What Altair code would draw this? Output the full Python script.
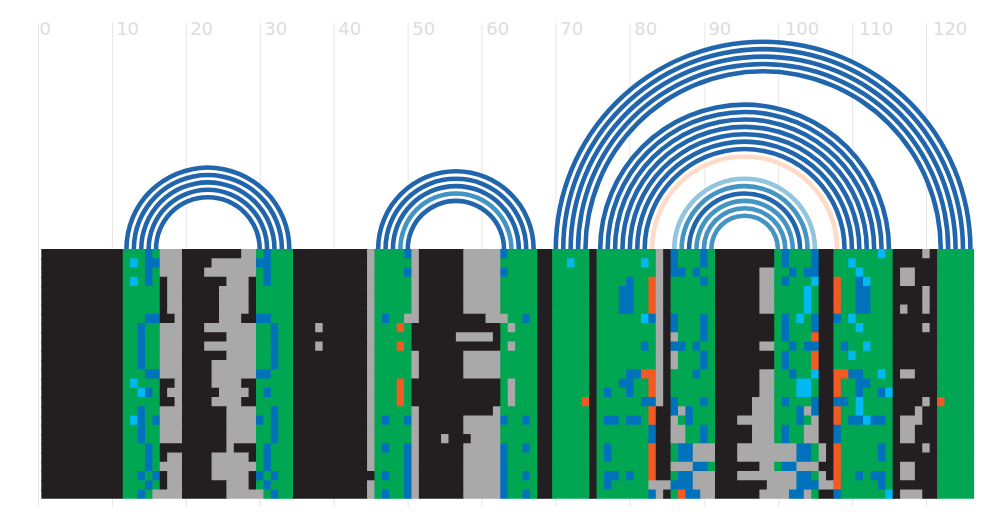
import altair as alt
import pandas as pd

# Alignment: each row lists runs as <state><last column of the run>
ROWS = [
"K11 g14 b15 g16 G19 K27 G29 g30 b31 g34 K44 G45 g49 b50 G51 K57 G62 b63 g67 K69 g74 K75 g83 G84 K85 b86 g89 b90 g91 K99 g100 b101 g104 b105 K107 g113 c114 g115 K119 G120 K121 g126",
"K11 g12 c13 g14 b16 G19 K23 G29 b31 g34 K44 G45 g50 G51 K57 G62 g67 K69 g71 c72 g74 K75 g81 c82 g83 G84 K85 b86 g89 b90 g91 K99 g100 b101 g104 b105 K107 g109 c110 g115 K121 g126",
"K11 g14 b15 g16 G19 K22 G29 g30 b31 g34 K44 G45 g49 b50 G51 K57 G62 b63 g67 K69 g74 K75 g83 G84 K85 b87 g88 b89 g91 K97 G99 g101 b102 g103 b105 K107 g110 c111 g115 K116 G118 K121 g126",
"K11 g12 c13 g14 b15 g16 K17 G19 K25 G28 K29 g30 b31 g34 K44 G45 g50 G51 K57 G62 g67 K69 g74 K75 g79 b80 g82 o83 G84 K85 g89 b90 g91 K97 G99 g100 b101 g104 c105 K107 o108 g110 b111 c112 g115 K116 G118 K121 g126",
"K11 g16 K17 G19 K24 G28 K29 g34 K44 G45 g50 G51 K57 G62 g67 K69 g74 K75 g78 b80 g82 o83 G84 K85 g91 K97 G99 g103 c104 g105 K107 o108 g110 b112 g115 K119 G120 K121 g126",
"K11 g16 K17 G19 K24 G28 K29 g34 K44 G45 g50 G51 K57 G62 g67 K69 g74 K75 g78 b80 g82 o83 G84 K85 g91 K97 G99 g103 c104 g105 K107 o108 g110 b112 g115 K119 G120 K121 g126",
"K11 g16 K17 G19 K24 G28 K29 g34 K44 G45 g50 G51 K57 G62 g67 K69 g74 K75 g78 b80 g82 o83 G84 K85 g91 K97 G99 g103 c104 g105 K107 o108 g110 b112 g115 K116 G117 K119 G120 K121 g126",
"K11 g14 b16 K18 G19 K24 G27 K29 b31 g34 K44 G45 g46 b47 g49 G51 K60 G63 g65 b66 g67 K69 g74 K75 g81 c82 b83 G84 K85 b86 g89 b90 g91 K99 g100 b101 g102 c103 g104 b105 K107 b108 g109 c110 g115 K121 g126",
"K11 g13 b14 g16 G19 K22 G29 g31 b32 g34 K37 G38 K44 G45 g48 o49 g50 K62 g63 G64 g67 K69 g74 K75 g83 G84 K85 b86 g89 b90 g91 K99 g100 b101 g104 b105 K107 g110 c111 g115 K119 G120 K121 g126",
"K11 g13 b14 g16 G19 K25 G29 g31 b32 g34 K44 G45 g50 K56 G61 K62 g67 K69 g74 K75 g83 G84 K85 G86 g89 b90 g91 K99 g100 b101 g104 o105 K107 g115 K121 g126",
"K11 g13 b14 g16 G19 K22 G29 g31 b32 g34 K37 G38 K44 G45 g48 o49 g50 K62 g63 G64 g67 K69 g74 K75 g81 b82 g83 G84 K85 b87 g88 b89 g91 K97 G99 g101 b102 g103 b105 K107 g108 b109 g111 c112 g115 K121 g126",
"K11 g13 b14 g16 G19 K25 G29 g31 b32 g34 K44 G45 g50 G51 K57 G62 g67 K69 g74 K75 g83 G84 K85 G86 g89 b90 g91 K99 g100 b101 g104 o105 K107 g109 c110 g115 K121 g126",
"K11 g13 b14 g16 G19 K23 G29 g31 b32 g34 K44 G45 g50 G51 K57 G62 g67 K69 g74 K75 g83 G84 K85 G86 g89 b90 g91 K99 g100 b101 g104 o105 K107 g115 K121 g126",
"K11 g14 b16 G19 K23 G29 b31 g34 K44 G45 g50 G51 K57 G62 g67 K69 g74 K75 g79 b81 o83 G84 K85 g88 b89 g91 K97 G99 g101 b102 g104 c105 K107 o109 b111 g113 c114 g115 K116 G118 K121 g126",
"K11 g12 c13 g16 K18 G19 K23 G27 K29 g34 K44 G45 g48 o49 g50 K62 g63 G64 g67 K69 g74 K75 g78 b80 g82 o83 G84 K85 g91 K97 G99 g102 c104 g105 K107 o108 g110 b112 g115 K121 g126",
"K11 g13 c14 b15 g16 K17 G19 K24 G28 K29 g30 b31 g34 K44 G45 g48 o49 g50 K62 g63 G64 g67 K69 g74 K75 g76 b77 g79 b80 g82 o83 G84 K85 g91 K97 G99 g102 c104 g105 K107 o108 g110 b111 g113 b114 c115 K121 g126",
"K11 g16 K18 G19 K23 G27 K29 g34 K44 G45 g48 o49 g50 K62 g63 G64 g67 K69 g73 o74 K75 g81 b83 G84 K85 b86 g89 b90 g91 K96 G99 g100 b101 g104 b105 K107 b109 g110 c111 g115 K119 G120 K121 o122 g126",
"K11 g13 b14 g16 G19 K25 G29 g31 b32 g34 K44 G45 g50 G51 K61 G62 g67 K69 g74 K75 g82 o83 K85 b86 G87 b88 g91 K96 G99 g102 b103 G104 b105 K107 o108 g110 c111 g115 K118 G119 K121 g126",
"K11 g12 c13 b14 g15 b16 G19 K25 G29 b30 g31 b32 g34 K44 G45 g46 b47 g49 b50 G51 K57 G62 b63 g65 b66 g67 K69 g74 K75 g76 b78 g79 b81 g82 o83 K85 G86 g87 b88 g91 K94 G99 g102 b103 g104 G105 K107 o108 g109 b111 c112 b114 g115 K116 G119 K121 g126",
"K11 g13 b14 g16 G19 K25 G29 g31 b32 g34 K44 G45 g50 G51 K57 G62 g67 K69 g74 K75 g82 b83 K85 G87 g89 b90 g91 K96 G99 g100 b101 g103 G105 K107 b108 g115 K116 G118 K121 g126",
"K11 g13 b14 g16 G19 K25 G29 g31 b32 g34 K44 G45 g50 G51 K54 G55 K58 G62 g67 K69 g74 K75 g82 b83 K85 G87 g89 b90 g91 K96 G99 g100 b101 g103 G105 K107 b108 g115 K116 G118 K121 g126",
"K11 g14 b15 g16 K25 G26 K29 g30 b31 g34 K44 G45 g46 b47 g49 b50 G51 K57 G62 b63 g65 b66 g67 K69 g74 K75 g76 b77 g82 o83 K85 g86 b88 G91 K94 G102 b104 g105 G106 K107 o108 g113 b114 g115 K119 G120 K121 g126",
"K11 g14 b15 g16 K17 G19 K23 G28 K29 g30 b31 g34 K44 G45 g49 b50 G51 K57 G62 b63 g67 K69 g74 K75 g76 b77 g82 o83 K85 g86 b88 G91 K94 G102 b104 g105 G106 K107 o108 g113 b114 g115 K121 g126",
"K11 g14 b15 g16 G19 K23 G29 g30 b31 g34 K44 G45 g49 b50 G51 K57 G62 b63 g67 K69 g74 K75 g82 o83 K85 G88 b90 g91 K97 G99 g100 b102 G105 K107 o108 g115 K116 G118 K121 g126",
"K11 g13 b14 g15 b16 K17 G19 K23 G28 K29 b30 g31 b32 g34 K45 g46 b47 g49 b50 G51 K57 G62 b63 g65 b66 g67 K69 g74 K75 g76 b78 g79 b80 g82 o83 K85 g86 b88 G91 K94 G102 b104 g105 G106 K107 o108 g110 b111 g112 b114 g115 K116 G118 K121 g126",
"K11 g14 b15 g16 K17 G19 K25 G28 K29 g30 b31 g34 K44 G45 g49 b50 G51 K57 G62 b63 g67 K69 g74 K75 g76 b77 g82 G85 b88 G91 K98 G102 b105 G107 o108 g113 b114 g115 K121 g126",
"K11 g13 b14 g15 G19 K25 G30 g31 b32 g34 K44 G45 g46 b47 g49 b50 G51 K57 G62 b63 g65 b66 g67 K69 g74 K75 g82 b83 G84 K85 g86 o87 b89 G91 K97 G101 b103 G104 g105 K107 b108 g114 c115 K116 G119 K121 g126",
]
STATES = ["K", "G", "g", "b", "c", "o"]
STATE_COLORS = ["#231f20", "#a9a9a9", "#00a651", "#0072bc", "#00b9f2", "#f15a22"]

# Base pairs: left column, right column, strength class
PAIR_LEFT = [12, 13, 14, 15, 16,
             46, 47, 48, 49, 50,
             70, 71, 72, 73, 74,
             76, 77, 78, 79, 80, 81, 82,
             83,
             86, 87, 88, 89, 90, 91]
PAIR_RIGHT = [34, 33, 32, 31, 30,
              67, 66, 65, 64, 63,
              126, 125, 124, 123, 122,
              115, 114, 113, 112, 111, 110, 109,
              108,
              105, 104, 103, 102, 101, 100]
PAIR_CLASS = ["d", "d", "d", "d", "d",
              "d", "d", "d", "m", "d",
              "d", "d", "d", "d", "d",
              "d", "d", "d", "d", "d", "d", "d",
              "o",
              "l", "m", "d", "m", "m", "m"]
CLASS_NAMES = ["d", "m", "l", "o"]
CLASS_COLORS = ["#2166ac", "#4393c3", "#92c5de", "#fddbc7"]

TICKS = list(range(0, 121, 10))

recs = []
for r, row in enumerate(ROWS):
    start = 1
    for tok in row.split():
        s, end = tok[0], int(tok[1:])
        # rows and runs are painted in order; each overlaps the next one slightly
        # so that no hairline shows between neighbouring rectangles
        recs.append({"x": start - 0.5, "x2": end + (0.5 if end == 126 else 0.6),
                     "y": r, "y2": r + (1 if r == len(ROWS) - 1 else 1.15), "s": s})
        start = end + 1
    assert start == 127, (r, start)
cells = pd.DataFrame(recs)

pairs = pd.DataFrame({"i": PAIR_LEFT, "j": PAIR_RIGHT, "c": PAIR_CLASS})
pairs["mid"] = (pairs.i + pairs.j) / 2
half = (pairs.j - pairs.i) / 2
pairs["ro"] = half + 0.31
pairs["ri"] = half - 0.31
pairs["base"] = 0

labels = pd.DataFrame({"t": TICKS, "s": [str(t) for t in TICKS], "top": -23.65})
labels["digits"] = labels["s"].str.len()

W, H = 993, 485
xs = alt.Scale(domain=[-4, 130], nice=False, zero=False)
ys = alt.Scale(domain=[-24.51, 27.86], reverse=True, nice=False, zero=False)
rs = alt.Scale(type="linear", domain=[0, 134], range=[0, W], zero=True, nice=False)

heat = alt.Chart(cells).mark_rect().encode(
    x=alt.X("x:Q", scale=xs, title=None,
            axis=alt.Axis(orient="top", values=TICKS, grid=True, gridColor="#e6e6e6", gridWidth=1,
                          domain=False, ticks=False, labels=False)),
    x2="x2:Q",
    y=alt.Y("y:Q", scale=ys, axis=None),
    y2="y2:Q",
    color=alt.Color("s:N", scale=alt.Scale(domain=STATES, range=STATE_COLORS), legend=None),
    order=alt.Order("y:Q"),
)

arcs = alt.Chart(pairs).mark_arc(theta=4.71238898, theta2=7.85398163, opacity=1).encode(
    x=alt.X("mid:Q", scale=xs),
    y=alt.Y("base:Q", scale=ys),
    radius=alt.Radius("ro:Q", scale=rs),
    radius2=alt.Radius2("ri:Q"),
    fill=alt.Fill("c:N", scale=alt.Scale(domain=CLASS_NAMES, range=CLASS_COLORS), legend=None),
)

texts = [
    alt.Chart(labels[labels.digits == d]).mark_text(
        align="left", baseline="middle", dx=dx, fontSize=18, font="DejaVu Sans", color="#dddddd"
    ).encode(x=alt.X("t:Q", scale=xs), y=alt.Y("top:Q", scale=ys), text="s:N")
    for d, dx in [(1, 2), (2, 4.5), (3, 7)]
]

chart = alt.layer(heat, arcs, *texts).properties(
    width=W, height=H,
    autosize=alt.AutoSizeParams(type="none"),
    padding={"left": 0, "top": 14, "right": 0, "bottom": 11},
).configure_view(stroke=None)

chart.save("out.html", embed_options={"renderer": "svg", "actions": False})
